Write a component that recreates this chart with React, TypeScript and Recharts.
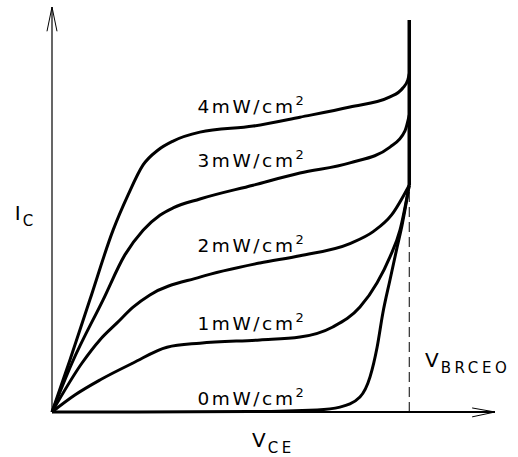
import { LineChart, Line, XAxis, YAxis, ReferenceLine, ReferenceDot } from "recharts";

// V_CE (arbitrary units, V_BRCEO = 10) vs I_C (arbitrary units, axis top = 100)
const curve4mW = [
  [0, 0], [0.5, 12.8], [1.06, 27.7], [1.71, 44.9], [2.13, 53.6], [2.55, 61.0],
  [2.97, 64.7], [3.39, 66.9], [4.14, 69.1], [5.63, 70.6], [6.94, 72.8],
  [8.34, 75.3], [9.46, 77.8], [9.82, 80.0], [9.96, 82.0], [10, 83.5],
];
const curve3mW = [
  [0, 0], [0.56, 12.1], [1.43, 27.7], [2.04, 38.8], [2.55, 44.9], [3.02, 48.6],
  [3.39, 50.4], [4.14, 52.6], [5.63, 56.0], [6.94, 59.0], [8.34, 61.5],
  [9.46, 65.4], [9.88, 69.4], [10, 73.3],
];
const curve2mW = [
  [0, 0], [0.84, 12.1], [1.34, 17.8], [1.82, 22.0], [2.27, 25.9], [2.74, 28.9],
  [4.14, 33.3], [5.82, 36.8], [6.94, 38.6], [8.34, 41.6], [9.0, 44.6],
  [9.5, 48.6], [10, 56.0],
];
const curve1mW = [
  [0, 0], [0.64, 4.2], [1.34, 7.9], [2.27, 12.1], [3.22, 16.0], [4.14, 17.0],
  [5.82, 17.8], [6.94, 18.5], [7.86, 21.0], [8.62, 25.9], [9.1, 31.9],
  [9.46, 38.3], [9.74, 44.9], [10, 56.0],
];
const curve0mW = [
  [0, 0], [5.54, 0.1], [7.42, 0.5], [8.06, 1.2], [8.62, 3.7], [8.9, 8.6],
  [9.1, 16.0], [9.26, 24.4], [9.46, 32.6], [9.66, 40.7], [9.8, 46.2], [10, 56.0],
];
const breakdown = [[10, 56.0], [10, 96.8]];
const vBrceo = 10;

const irradiance = ["4", "3", "2", "1", "0"];
const curves = [curve4mW, curve3mW, curve2mW, curve1mW, curve0mW];
// where each irradiance label sits (left edge, baseline)
const labelAt = [[4.07, 73.8], [4.07, 60.5], [4.07, 39.5], [4.07, 20.2], [4.07, 1.7]];

const toPts = (arr: number[][]) => arr.map(([x, y]) => ({ x, y }));

const font = "DejaVu Sans";

function Irr({ cx, cy, value }: any) {
  return (
    <text x={cx} y={cy} fontFamily={font} fontSize={18.5} letterSpacing={2.6} fill="#000">
      <tspan>{value}mW/cm</tspan>
      <tspan dy={-8} fontSize={13}>2</tspan>
    </text>
  );
}

function Sym({ cx, cy, main, sub }: any) {
  return (
    <text x={cx} y={cy} fontFamily={font} fontSize={20} letterSpacing={2} fill="#000">
      <tspan>{main}</tspan>
      <tspan dy={6} fontSize={15} letterSpacing={3.6}>{sub}</tspan>
    </text>
  );
}

export default function App() {
  return (
    <div style={{ position: "absolute", left: 0, top: 0, background: "#fff" }}>
      <LineChart width={518} height={457} margin={{ top: 7, right: 23, bottom: 45, left: 52 }}>
        <XAxis type="number" dataKey="x" domain={[0, 12.4]} hide />
        <YAxis type="number" dataKey="y" domain={[0, 100]} hide />

        {/* axes with open arrowheads */}
        <ReferenceLine segment={[{ x: 0, y: 0 }, { x: 0, y: 100 }]} stroke="#000" strokeWidth={1.2} ifOverflow="visible" />
        <ReferenceLine segment={[{ x: 0, y: 100 }, { x: -0.14, y: 94.0 }]} stroke="#000" strokeWidth={1} ifOverflow="visible" />
        <ReferenceLine segment={[{ x: 0, y: 100 }, { x: 0.14, y: 94.0 }]} stroke="#000" strokeWidth={1} ifOverflow="visible" />
        <ReferenceLine segment={[{ x: 0, y: 0 }, { x: 12.4, y: 0 }]} stroke="#000" strokeWidth={2} ifOverflow="visible" />
        <ReferenceLine segment={[{ x: 12.4, y: 0 }, { x: 11.76, y: 1.0 }]} stroke="#000" strokeWidth={1} ifOverflow="visible" />
        <ReferenceLine segment={[{ x: 12.4, y: 0 }, { x: 11.76, y: -1.2 }]} stroke="#000" strokeWidth={1} ifOverflow="visible" />

        <ReferenceLine
          segment={[{ x: vBrceo, y: 0 }, { x: vBrceo, y: 56 }]}
          stroke="#000"
          strokeWidth={1}
          strokeDasharray="10 5"
          ifOverflow="visible"
        />

        {curves.map((c, i) => (
          <Line
            key={irradiance[i]}
            data={toPts(c)}
            dataKey="y"
            type="monotone"
            stroke="#000"
            strokeWidth={3}
            dot={false}
            isAnimationActive={false}
          />
        ))}
        <Line data={toPts(breakdown)} dataKey="y" type="linear" stroke="#000" strokeWidth={3.5} dot={false} isAnimationActive={false} />

        {irradiance.map((v, i) => (
          <ReferenceDot
            key={"l" + v}
            x={labelAt[i][0]}
            y={labelAt[i][1]}
            r={0}
            ifOverflow="visible"
            shape={(p: any) => <Irr cx={p.cx} cy={p.cy} value={v} />}
          />
        ))}

        <ReferenceDot x={-1.04} y={47.4} r={0} ifOverflow="visible" shape={(p: any) => <Sym cx={p.cx} cy={p.cy} main="I" sub="C" />} />
        <ReferenceDot x={5.6} y={-8.6} r={0} ifOverflow="visible" shape={(p: any) => <Sym cx={p.cx} cy={p.cy} main="V" sub="CE" />} />
        <ReferenceDot x={10.44} y={11.1} r={0} ifOverflow="visible" shape={(p: any) => <Sym cx={p.cx} cy={p.cy} main="V" sub="BRCEO" />} />
      </LineChart>
    </div>
  );
}
